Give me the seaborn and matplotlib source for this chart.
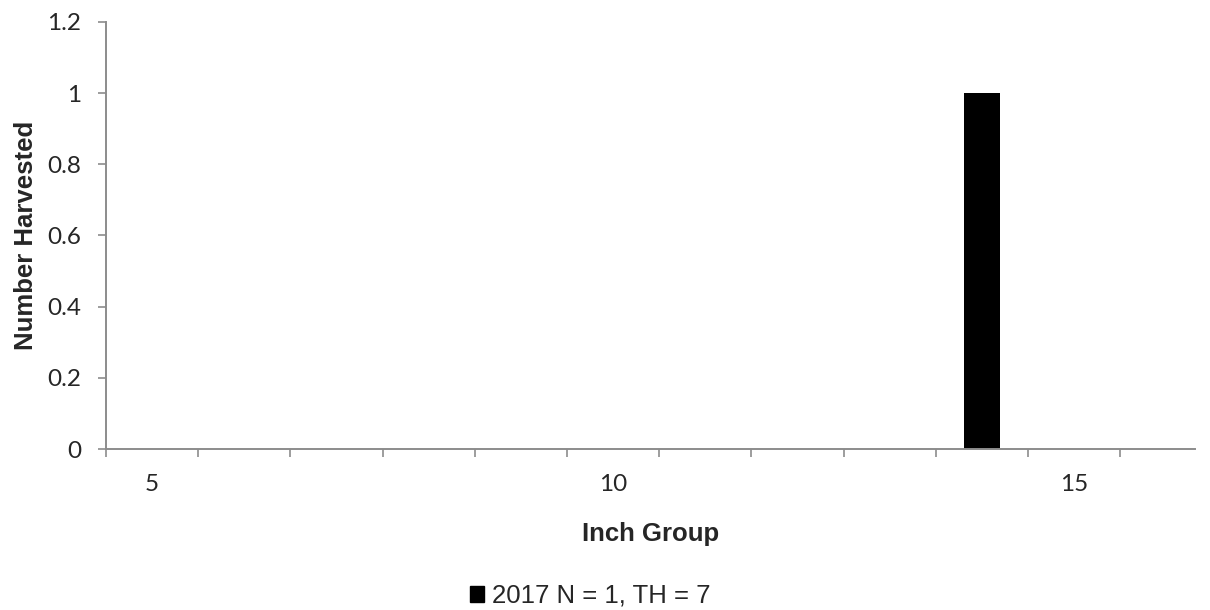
import matplotlib
matplotlib.use("Agg")
import matplotlib.pyplot as plt
import seaborn as sns
from matplotlib.patches import Patch
from matplotlib.ticker import FixedLocator

# data
inch_groups = ["5", "6", "7", "8", "9", "10", "11", "12", "13", "14", "15", "16"]
harvested = [0, 0, 0, 0, 0, 0, 0, 0, 0, 1, 0, 0]
shown_labels = ["5", "10", "15"]
y_ticks = [0, 0.2, 0.4, 0.6, 0.8, 1.0, 1.2]
y_tick_labels = ["0", "0.2", "0.4", "0.6", "0.8", "1", "1.2"]
legend_label = "2017 N = 1, TH = 7"

sns.set_style("white")
plt.rcParams['font.family'] = ['Liberation Sans', 'DejaVu Sans']

axis_gray = "#8c8c8c"
tick_font = 17.5

fig = plt.figure(figsize=(12.1, 6.1), dpi=100)
ax = fig.add_axes([106 / 1210, 1 - 449 / 610, (1195 - 106) / 1210, (449 - 22) / 610])

sns.barplot(x=inch_groups, y=harvested, order=inch_groups, color="black",
            width=0.4, linewidth=0, saturation=1, ax=ax)

ax.set_ylim(0, 1.2)
ax.set_xlim(-0.5, 11.31)

# y axis
ax.set_yticks(y_ticks)
ax.set_yticklabels(y_tick_labels, family="Lato", fontsize=tick_font)
ax.tick_params(axis="y", which="major", direction="out", length=6,
               width=1.2, color=axis_gray, pad=12, left=True)

# x axis: labels at category centres, ticks at category boundaries
ax.set_xticks(range(len(inch_groups)))
ax.set_xticklabels([g if g in shown_labels else "" for g in inch_groups],
                   family="Lato", fontsize=tick_font)
ax.tick_params(axis="x", which="major", length=0, pad=18, bottom=True)
ax.xaxis.set_minor_locator(FixedLocator([i - 0.5 for i in range(len(inch_groups))]))
ax.tick_params(axis="x", which="minor", direction="out", length=6,
               width=1.2, color=axis_gray, bottom=True)

for side in ["top", "right"]:
    ax.spines[side].set_visible(False)
for side in ["left", "bottom"]:
    ax.spines[side].set_color(axis_gray)
    ax.spines[side].set_linewidth(1.4)

ax.set_xlabel("Inch Group", fontsize=18.5, fontweight="bold")
ax.xaxis.set_label_coords(0.5, -0.172)
ax.set_ylabel("Number Harvested", fontsize=18.5, fontweight="bold")
ax.yaxis.set_label_coords(-0.062, 0.5)

handles = [Patch(facecolor="black", edgecolor="black")]
fig.legend(handles, [legend_label], loc="center", bbox_to_anchor=(590 / 1210, 1 - 596 / 610),
           frameon=False, fontsize=18.5, handlelength=0.55, handleheight=0.55,
           handletextpad=0.3)

fig.savefig("out.png", dpi=100)
